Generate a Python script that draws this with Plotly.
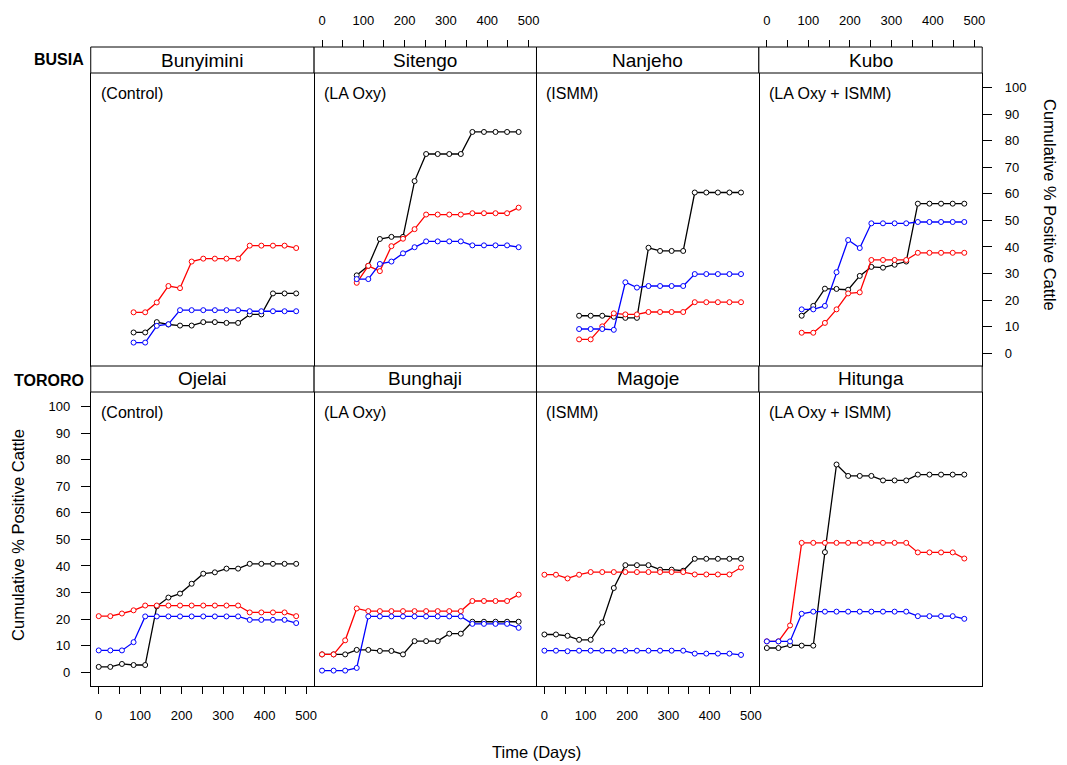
import plotly.graph_objects as go

# ---------------- data ----------------
days_busia = [84, 112, 140, 168, 196, 224, 252, 280, 308, 336, 364, 392, 420, 448, 476]
days_tororo = [0, 28, 56, 84, 112, 140, 168, 196, 224, 252, 280, 308, 336, 364, 392, 420, 448, 476]

villages = ["Bunyimini", "Sitengo", "Nanjeho", "Kubo", "Ojelai", "Bunghaji", "Magoje", "Hitunga"]
treatments = ["(Control)", "(LA Oxy)", "(ISMM)", "(LA Oxy + ISMM)",
              "(Control)", "(LA Oxy)", "(ISMM)", "(LA Oxy + ISMM)"]
districts = ["BUSIA", "TORORO"]

bunyimini_black = [7.8, 7.8, 11.7, 10.8, 10.4, 10.4, 11.7, 11.7, 11.4, 11.4, 14.6, 14.6, 22.5, 22.5, 22.5]
bunyimini_red = [15.4, 15.4, 19.1, 25.3, 24.5, 34.5, 35.6, 35.6, 35.6, 35.6, 40.5, 40.5, 40.5, 40.5, 39.6]
bunyimini_blue = [4.0, 4.0, 10.3, 10.9, 16.2, 16.2, 16.2, 16.2, 16.2, 16.2, 15.8, 15.8, 15.8, 15.8, 15.8]

sitengo_black = [29.3, 32.9, 43.0, 43.8, 43.8, 64.8, 75.0, 75.0, 75.0, 75.0, 83.3, 83.3, 83.3, 83.3, 83.3]
sitengo_red = [26.5, 32.9, 30.9, 40.3, 43.1, 46.7, 52.2, 52.2, 52.2, 52.2, 52.7, 52.7, 52.7, 52.7, 54.8]
sitengo_blue = [27.9, 27.9, 33.6, 34.5, 37.6, 39.9, 42.1, 42.1, 42.1, 42.1, 40.6, 40.6, 40.6, 40.6, 39.9]

nanjeho_black = [14.1, 14.1, 14.1, 13.7, 13.3, 13.3, 39.7, 38.5, 38.5, 38.5, 60.5, 60.5, 60.5, 60.5, 60.5]
nanjeho_red = [5.2, 5.2, 10.1, 15.0, 14.6, 14.6, 15.5, 15.5, 15.5, 15.5, 19.2, 19.2, 19.2, 19.2, 19.2]
nanjeho_blue = [9.1, 9.1, 9.1, 8.8, 26.7, 24.7, 25.3, 25.3, 25.3, 25.3, 29.8, 29.8, 29.8, 29.8, 29.8]

kubo_black = [14.1, 17.8, 24.3, 24.2, 23.9, 29.1, 32.5, 32.2, 33.3, 34.5, 56.3, 56.3, 56.3, 56.3, 56.3]
kubo_red = [7.7, 7.7, 11.4, 16.5, 22.5, 22.9, 35.1, 35.1, 35.1, 35.1, 37.8, 37.8, 37.8, 37.8, 37.8]
kubo_blue = [16.5, 16.5, 17.8, 30.5, 42.6, 39.6, 48.9, 48.9, 48.9, 48.9, 49.4, 49.4, 49.4, 49.4, 49.4]

ojelai_black = [2.0, 2.0, 3.1, 2.7, 2.7, 24.8, 28.1, 29.6, 33.3, 37.1, 37.6, 39.0, 39.0, 40.8, 40.8, 40.8, 40.8, 40.8]
ojelai_red = [21.1, 21.1, 22.1, 23.3, 25.1, 25.1, 25.1, 25.1, 25.1, 25.1, 25.1, 25.1, 25.1, 22.5, 22.5, 22.5, 22.5, 21.1]
ojelai_blue = [8.2, 8.2, 8.2, 11.3, 21.0, 21.0, 21.0, 21.0, 21.0, 21.0, 21.0, 21.0, 21.0, 19.7, 19.7, 19.7, 19.7, 18.5]

bunghaji_black = [6.7, 6.7, 6.7, 8.4, 8.4, 8.0, 8.0, 6.7, 11.7, 11.7, 11.7, 14.5, 14.5, 19.0, 19.0, 19.0, 19.0, 19.0]
bunghaji_red = [6.7, 6.7, 12.0, 24.0, 23.0, 23.0, 23.0, 23.0, 23.0, 23.0, 23.0, 23.0, 23.0, 26.8, 26.8, 26.8, 26.8, 29.2]
bunghaji_blue = [0.6, 0.6, 0.6, 1.6, 21.0, 21.0, 21.0, 21.0, 21.0, 21.0, 21.0, 21.0, 21.0, 18.2, 18.2, 18.2, 18.2, 16.7]

magoje_black = [14.2, 14.2, 13.7, 12.2, 12.2, 18.7, 31.7, 40.3, 40.3, 40.3, 38.6, 38.6, 38.2, 42.7, 42.7, 42.7, 42.7, 42.7]
magoje_red = [36.7, 36.7, 35.3, 36.7, 37.7, 37.7, 37.7, 37.7, 37.7, 37.7, 37.7, 37.7, 37.7, 36.8, 36.8, 36.8, 36.8, 39.4]
magoje_blue = [8.1, 8.1, 7.9, 8.1, 8.1, 8.1, 8.1, 8.1, 8.1, 8.1, 8.1, 8.1, 8.1, 7.0, 7.0, 7.0, 7.0, 6.5]

hitunga_black = [9.1, 9.1, 10.2, 10.0, 10.0, 45.2, 78.2, 73.9, 73.9, 73.9, 72.2, 72.2, 72.2, 74.4, 74.4, 74.4, 74.4, 74.4]
hitunga_red = [11.6, 11.6, 17.6, 48.7, 48.7, 48.7, 48.7, 48.7, 48.7, 48.7, 48.7, 48.7, 48.7, 45.1, 45.1, 45.1, 45.1, 42.8]
hitunga_blue = [11.6, 11.6, 11.6, 22.0, 22.8, 22.8, 22.8, 22.8, 22.8, 22.8, 22.8, 22.8, 22.8, 21.1, 21.1, 21.1, 21.1, 20.1]

x_ticks = [0, 100, 200, 300, 400, 500]
y_ticks = [0, 10, 20, 30, 40, 50, 60, 70, 80, 90, 100]

panel_series = [
    (days_busia, [bunyimini_black, bunyimini_red, bunyimini_blue]),
    (days_busia, [sitengo_black, sitengo_red, sitengo_blue]),
    (days_busia, [nanjeho_black, nanjeho_red, nanjeho_blue]),
    (days_busia, [kubo_black, kubo_red, kubo_blue]),
    (days_tororo, [ojelai_black, ojelai_red, ojelai_blue]),
    (days_tororo, [bunghaji_black, bunghaji_red, bunghaji_blue]),
    (days_tororo, [magoje_black, magoje_red, magoje_blue]),
    (days_tororo, [hitunga_black, hitunga_red, hitunga_blue]),
]
series_colors = ["#000000", "#FF0000", "#0000FF"]

# ---------------- layout geometry ----------------
W, H = 1067, 765
FONT = "Liberation Sans, Arial, Helvetica, sans-serif"
col_px = [(91, 315), (315, 538), (538, 761), (761, 985)]
row_px = [(73, 367), (392, 686)]   # panel top, bottom (px)
strip_h = 26
x_range = [-19.2, 519.2]
y_range = [-5.2, 105.5]


def sfx(n):
    return "" if n == 1 else str(n)


fig = go.Figure()

for i, (days, series) in enumerate(panel_series):
    n = i + 1
    for vals, col in zip(series, series_colors):
        fig.add_trace(go.Scatter(
            x=days, y=vals, mode="lines+markers",
            line=dict(color=col, width=1.3),
            marker=dict(symbol="circle", size=5, color="white",
                        line=dict(color=col, width=1)),
            xaxis=f"x{sfx(n)}", yaxis=f"y{sfx(n)}", showlegend=False, hoverinfo="x+y"))

axis_common = dict(showgrid=False, zeroline=False,
                   linecolor="black", linewidth=1, tickcolor="black",
                   tickfont=dict(family=FONT, size=13, color="black"))

for i in range(8):
    n = i + 1
    r, c = divmod(i, 4)
    x0, x1 = col_px[c]
    yt, yb = row_px[r]
    xa = dict(axis_common, domain=[x0 / W, x1 / W], range=x_range,
              anchor=f"y{sfx(n)}", tickvals=x_ticks, side="bottom", mirror=False)
    ya = dict(axis_common, domain=[1 - yb / H, 1 - yt / H], range=y_range,
              anchor=f"x{sfx(n)}", tickvals=y_ticks, showline=True)
    # frame edges: row 1 top/bottom edges come from strip borders; row 2 bottom from axis
    xa["showline"] = (r == 1)
    if c == 0:
        ya.update(side="left", mirror=True)
    else:
        ya.update(side="right", mirror=False)
    if r == 1 and c in (0, 2):
        xa.update(ticks="outside", ticklen=7, showticklabels=True,
                  ticklabelstandoff=10,
                  minor=dict(dtick=50, tick0=0, ticks="outside", ticklen=7, tickcolor="black"))
    else:
        xa.update(ticks="", showticklabels=False)
    if r == 0 and c == 3:
        ya.update(ticks="outside", ticklen=9, showticklabels=True, ticklabelstandoff=10)
    elif r == 1 and c == 0:
        ya.update(ticks="outside", ticklen=9, showticklabels=True, ticklabelstandoff=8)
    else:
        ya.update(ticks="", showticklabels=False)
    fig.layout[f"xaxis{sfx(n)}"] = xa
    fig.layout[f"yaxis{sfx(n)}"] = ya

    # strip
    fig.add_shape(type="rect", xref=f"x{sfx(n)} domain", yref=f"y{sfx(n)} domain",
                  x0=0, x1=1, y0=1, y1=1 + strip_h / (yb - yt),
                  line=dict(color="black", width=1), fillcolor="white", layer="above")
    fig.add_annotation(text=villages[i], xref=f"x{sfx(n)} domain", yref=f"y{sfx(n)} domain",
                       x=0.5, y=1 + strip_h / 2 / (yb - yt), showarrow=False,
                       xanchor="center", yanchor="middle",
                       font=dict(family=FONT, size=19, color="black"))
    fig.add_annotation(text=treatments[i], xref=f"x{sfx(n)} domain", yref=f"y{sfx(n)} domain",
                       x=8 / (x1 - x0), y=1 - 20.5 / (yb - yt), showarrow=False,
                       xanchor="left", yanchor="middle",
                       font=dict(family=FONT, size=16, color="black"))

# top x axes (above strips) for cols 2 and 4 of row 1, overlaying the panel axes
for k, (n_src, c) in enumerate([(2, 1), (4, 3)]):
    ax_id = 9 + k
    x0, x1 = col_px[c]
    fig.layout[f"xaxis{ax_id}"] = dict(
        domain=[x0 / W, x1 / W], range=x_range, anchor="free", overlaying=f"x{n_src}",
        position=1 - (row_px[0][0] - strip_h) / H, side="top",
        showgrid=False, zeroline=False, showline=False,
        ticks="outside", ticklen=7, tickcolor="black", tickvals=x_ticks,
        ticklabelstandoff=10,
        minor=dict(dtick=50, tick0=0, ticks="outside", ticklen=7, tickcolor="black"),
        tickfont=dict(family=FONT, size=13, color="black"))
    fig.add_trace(go.Scatter(x=[None], y=[None], xaxis=f"x{ax_id}", yaxis=f"y{n_src}",
                             showlegend=False, hoverinfo="skip"))

# district labels
for name, yc in zip(districts, [60, 380]):
    fig.add_annotation(text=f"<b>{name}</b>", xref="paper", yref="paper",
                       x=86 / W, y=1 - yc / H, xanchor="right", yanchor="middle",
                       showarrow=False, font=dict(family=FONT, size=16, color="black"))

# axis titles
fig.add_annotation(text="Time (Days)", xref="paper", yref="paper",
                   x=538 / W, y=1 - 752 / H, xanchor="center", yanchor="middle",
                   showarrow=False, font=dict(family=FONT, size=16.5, color="black"))
fig.add_annotation(text="Cumulative % Positive Cattle", xref="paper", yref="paper",
                   x=18 / W, y=1 - 535 / H, xanchor="center", yanchor="middle",
                   textangle=-90, showarrow=False,
                   font=dict(family=FONT, size=16.5, color="black"))
fig.add_annotation(text="Cumulative % Positive Cattle", xref="paper", yref="paper",
                   x=1053 / W, y=1 - 205 / H, xanchor="center", yanchor="middle",
                   textangle=90, showarrow=False,
                   font=dict(family=FONT, size=16.5, color="black"))

fig.update_layout(width=W, height=H, margin=dict(l=0, r=0, t=0, b=0),
                  paper_bgcolor="white", plot_bgcolor="white",
                  font=dict(family=FONT, color="black"))

fig.write_html("out.html", config={"displayModeBar": False},
               post_script="document.body.style.margin='0';document.body.style.overflow='hidden';")
